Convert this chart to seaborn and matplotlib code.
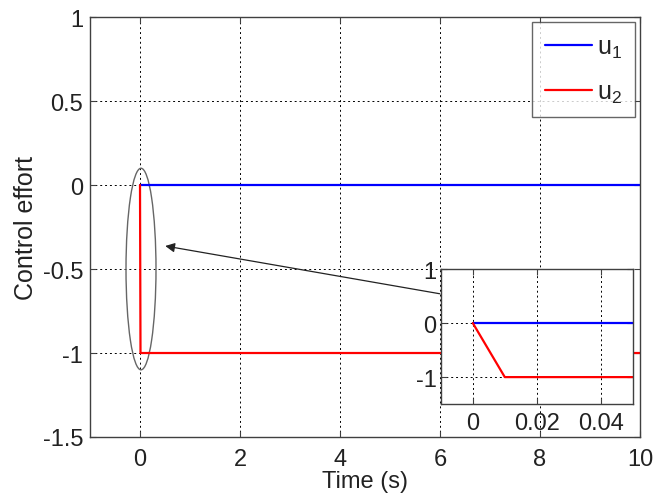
import numpy as np
import pandas as pd
import seaborn as sns
import matplotlib.pyplot as plt
from matplotlib.patches import Ellipse

# signals
t_u1 = [0, 10]
u1 = [0, 0]
t_u2 = [0, 0.01, 10]
u2 = [0, -1, -1]

xticks = [0, 2, 4, 6, 8, 10]
yticks = [-1.5, -1, -0.5, 0, 0.5, 1]
inset_xticks = [0, 0.02, 0.04]
inset_yticks = [-1, 0, 1]

sns.set_style("white")
plt.rcParams['font.family'] = ['Liberation Sans', 'DejaVu Sans']
plt.rcParams['axes.unicode_minus'] = False
plt.rcParams['mathtext.fontset'] = 'custom'
plt.rcParams['mathtext.rm'] = 'Liberation Sans'
plt.rcParams['mathtext.it'] = 'Liberation Sans'

df1 = pd.DataFrame({"t": t_u1, "u": u1})
df2 = pd.DataFrame({"t": t_u2, "u": u2})

fig = plt.figure(figsize=(6.57, 5.02), dpi=100)
ax = fig.add_axes([0.137, 0.1275, 0.837, 0.8365])


def style_axes(a, fs):
    for s in a.spines.values():
        s.set_color('#404040')
        s.set_linewidth(1.0)
    a.grid(True, color='black', linestyle=(0, (2, 3)), linewidth=0.7)
    a.tick_params(direction='in', length=4, color='#404040', labelsize=fs,
                  labelcolor='#222222', top=True, right=True, bottom=True, left=True)


sns.lineplot(data=df1, x="t", y="u", ax=ax, color='#0000ff', linewidth=1.6,
             label=r'$\mathregular{u_1}$', estimator=None, sort=False)
sns.lineplot(data=df2, x="t", y="u", ax=ax, color='red', linewidth=1.6,
             label=r'$\mathregular{u_2}$', estimator=None, sort=False)
ax.set_xlim(-1, 10)
ax.set_ylim(-1.5, 1)
ax.set_xticks(xticks)
ax.set_yticks(yticks)
ax.set_xticklabels([str(v) for v in xticks])
ax.set_yticklabels(['-1.5', '-1', '-0.5', '0', '0.5', '1'])
style_axes(ax, 17)
ax.tick_params(axis='x', pad=8)
ax.tick_params(axis='y', pad=5)
ax.set_xlabel('Time (s)', fontsize=17, color='#222222', labelpad=0)
ax.set_ylabel('Control effort', fontsize=18, color='#222222', labelpad=3)

leg = ax.legend(loc='upper right', fontsize=18, frameon=True, fancybox=False,
                edgecolor='#404040', handlelength=1.9, handletextpad=0.2,
                borderaxespad=0.2, labelspacing=0.8, borderpad=0.5)
leg.get_frame().set_linewidth(1.0)

# highlight ellipse and arrow to the zoomed view
ax.add_patch(Ellipse((0.02, -0.5), 0.6, 1.2, fill=False, edgecolor='#666666', linewidth=1.0))
ax.annotate('', xy=(0.45, -0.36), xytext=(6.05, -0.65),
            arrowprops=dict(arrowstyle='-|>', color='#222222', lw=0.9, mutation_scale=14))

# inset
axin = fig.add_axes([0.671, 0.193, 0.292, 0.269])
sns.lineplot(data=df1, x="t", y="u", ax=axin, color='#0000ff', linewidth=1.6,
             estimator=None, sort=False, legend=False)
sns.lineplot(data=df2, x="t", y="u", ax=axin, color='red', linewidth=1.6,
             estimator=None, sort=False, legend=False)
axin.set_xlim(-0.01, 0.05)
axin.set_ylim(-1.5, 1)
axin.set_xticks(inset_xticks)
axin.set_yticks(inset_yticks)
axin.set_xticklabels(['0', '0.02', '0.04'])
axin.set_yticklabels(['-1', '0', '1'])
axin.set_xlabel('')
axin.set_ylabel('')
style_axes(axin, 17)
axin.tick_params(axis='x', pad=6)
axin.tick_params(axis='y', pad=3)

plt.savefig('out.png', dpi=100)
